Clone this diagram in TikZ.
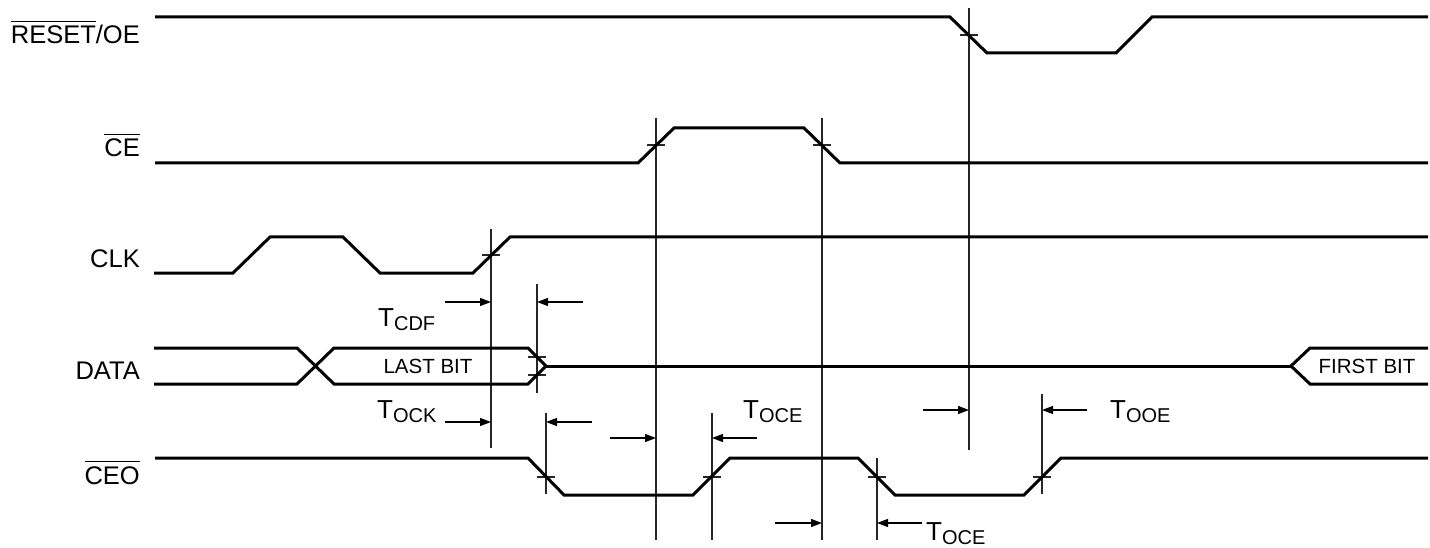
\documentclass[tikz,border=0pt]{standalone}
\usepackage{fontspec}
\setmainfont{Liberation Sans}
\usetikzlibrary{arrows.meta}
\newcommand\Tsub[1]{T\raisebox{-4pt}{\fontsize{20}{20}\selectfont #1}}
\newcommand\ovl[1]{$\overline{\mbox{#1}\rule{0pt}{21pt}}$}
\begin{document}
\begin{tikzpicture}[x=1pt,y=-1pt,
  sig/.style={line width=3pt, line join=miter},
  thinline/.style={line width=1.2pt, black!85},
  dim/.style={line width=1.2pt, -{Triangle[length=11pt,width=8pt]}},
  lbl/.style={font=\fontsize{25.5}{26}\selectfont, anchor=base east, inner sep=0pt},
  tlab/.style={font=\fontsize{26}{26}\selectfont, anchor=base west, inner sep=0pt},
  bitlab/.style={font=\fontsize{20.5}{21}\selectfont, inner sep=0pt}]
\useasboundingbox (0,0) rectangle (1430,548);

% signal labels
\node[lbl] (lreset) at (140,44) {\ovl{RESET}/OE};
\node[lbl] (lce) at (140,157) {\ovl{CE}};
\node[lbl] (lclk) at (140,267) {CLK};
\node[lbl] (ldata) at (140,379) {DATA};
\node[lbl] (lceo) at (140,484) {\ovl{CEO}};

% thin vertical reference lines
\draw[thinline] (491,229) -- (491,448);
\draw[thinline] (537,284) -- (537,393);
\draw[thinline] (546,413) -- (546,494);
\draw[thinline] (656,118) -- (656,540);
\draw[thinline] (712,413) -- (712,540);
\draw[thinline] (822,118) -- (822,540);
\draw[thinline] (877,458) -- (877,540);
\draw[thinline] (969,8) -- (969,450);
\draw[thinline] (1042,394) -- (1042,494);

% crossing ticks
\foreach \x/\y in {969/35, 656/145, 822/145, 491/255, 537/357, 537/375, 546/477, 712/477, 877/477, 1042/477}
  \draw[thinline] (\x-9,\y) -- (\x+9,\y);

% signals
\draw[sig] (155,17) -- (950,17) -- (987,53) -- (1116,53) -- (1152,17) -- (1428,17);
\draw[sig] (155,163) -- (638,163) -- (674,128) -- (804,128) -- (840,163) -- (1428,163);
\draw[sig] (154,273) -- (233,273) -- (270,237) -- (343,237) -- (380,273) -- (473,273) -- (510,237) -- (1428,237);
\draw[sig] (154,348) -- (297,348) -- (334,384) -- (528,384) -- (546,366) -- (528,348) -- (334,348) -- (297,384) -- (154,384);
\draw[sig] (546,366) -- (1291,366);
\draw[sig] (1428,348) -- (1310,348) -- (1291,366) -- (1310,384) -- (1428,384);
\draw[sig] (155,458) -- (528,458) -- (564,495) -- (693,495) -- (730,458) -- (858,458) -- (895,495) -- (1024,495) -- (1061,458) -- (1428,458);

\node[bitlab] (last) at (428,366) {LAST BIT};
\node[bitlab] (first) at (1367,366) {FIRST BIT};

% timing arrows
\draw[dim] (445,302) -- (491,302);
\draw[dim] (583,302) -- (537,302);
\draw[dim] (445,422) -- (491,422);
\draw[dim] (592,422) -- (546,422);
\draw[dim] (610,438) -- (656,438);
\draw[dim] (757,438) -- (712,438);
\draw[dim] (923,410) -- (969,410);
\draw[dim] (1087,410) -- (1042,410);
\draw[dim] (775,523) -- (822,523);
\draw[dim] (922,523) -- (877,523);

% timing labels
\node[tlab] (tcdf) at (378,326) {\Tsub{CDF}};
\node[tlab] (tock) at (377,418) {\Tsub{OCK}};
\node[tlab] (toce1) at (743,418) {\Tsub{OCE}};
\node[tlab] (tooe) at (1110,418) {\Tsub{OOE}};
\node[tlab] (toce2) at (926,540) {\Tsub{OCE}};
\end{tikzpicture}
\end{document}
